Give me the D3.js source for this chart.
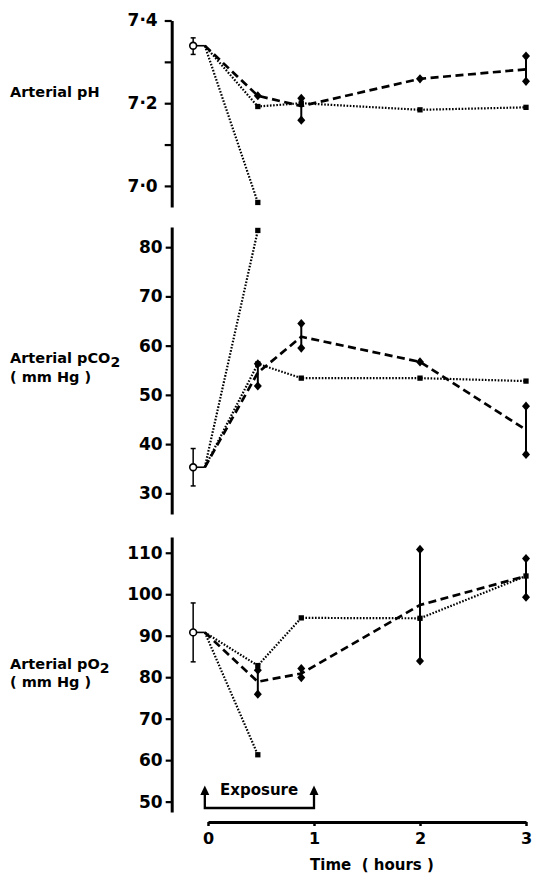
<!DOCTYPE html>
<html><head><meta charset="utf-8">
<script src="https://cdn.jsdelivr.net/npm/d3@7"></script>
<style>
body{margin:0;background:#fff;}
text{font-family:"DejaVu Sans",sans-serif;font-weight:bold;fill:#000;}
</style></head>
<body><svg id="c" width="536" height="873"></svg>
<script>
// ---- data ----
const times = [-0.03, 0.47, 0.88, 2, 3];
const controlTime = -0.14;
const steepTimes = [-0.03, 0.47];
const xTicks = [0, 1, 2, 3];

// Arterial pH
const phControl = [7.339, 7.318, 7.358]; // mean, lo, hi
const phA   = [7.339, 7.218, 7.193, 7.259, 7.282];
const phALo = [null, null, 7.159, null, 7.253];
const phAHi = [null, null, 7.212, null, 7.314];
const phB   = [7.339, 7.192, 7.200, 7.184, 7.190];
const phC   = [7.339, 6.960];
const phTicks = [7.0, 7.1, 7.2, 7.3, 7.4];
const phLabels = {"7": "7·0", "7.2": "7·2", "7.4": "7·4"};

// Arterial pCO2
const co2Control = [35.3, 31.5, 39.1];
const co2A   = [35.3, 54.5, 61.8, 56.7, 42.9];
const co2ALo = [null, 51.8, 59.5, null, 37.9];
const co2AHi = [null, 56.3, 64.5, null, 47.7];
const co2B   = [35.3, 56.3, 53.4, 53.4, 52.8];
const co2C   = [35.3, 83.4];
const co2Ticks = [30, 40, 50, 60, 70, 80];

// Arterial pO2
const o2Control = [90.8, 83.7, 97.9];
const o2A   = [90.8, 78.9, 80.9, 97.4, 104.4];
const o2ALo = [null, 75.9, 79.9, 83.9, 99.3];
const o2AHi = [null, 81.7, 82.1, 110.8, 108.6];
const o2B   = [90.8, 82.8, 94.3, 94.2, 104.4];
const o2C   = [90.8, 61.3];
const o2Ticks = [50, 60, 70, 80, 90, 100, 110];

// ---- drawing ----
const svg = d3.select("#c");
const x = d3.scaleLinear().domain([0, 3]).range([208, 526]);
const axisX = 171.7;

const panels = [
  {ctrl: phControl, A: phA, ALo: phALo, AHi: phAHi, B: phB, C: phC, ticks: phTicks,
   fmt: v => phLabels[String(+v.toFixed(1))] || "", domain: [6.949, 7.4], range: [207, 20.5], tickSize: 7, pad: 7},
  {ctrl: co2Control, A: co2A, ALo: co2ALo, AHi: co2AHi, B: co2B, C: co2C, ticks: co2Ticks,
   fmt: d3.format("d"), domain: [25.8, 84.1], range: [514, 227], tickSize: 6, pad: 3},
  {ctrl: o2Control, A: o2A, ALo: o2ALo, AHi: o2AHi, B: o2B, C: o2C, ticks: o2Ticks,
   fmt: d3.format("d"), domain: [47.5, 113.8], range: [812, 537], tickSize: 6, pad: 3}
];

const diamondType = {draw(ctx, size){ const w=4, h=4.6; ctx.moveTo(0,-h); ctx.lineTo(w,0); ctx.lineTo(0,h); ctx.lineTo(-w,0); ctx.closePath(); }};
const diamond = d3.symbol().type(diamondType);
const square = d3.symbol().type(d3.symbolSquare).size(28);

panels.forEach(p => {
  const y = d3.scaleLinear().domain(p.domain).range(p.range);
  const g = svg.append("g").attr("transform", `translate(${axisX},0)`);
  g.call(d3.axisLeft(y).tickValues(p.ticks).tickSize(p.tickSize).tickSizeOuter(0)
          .tickPadding(p.pad).tickFormat(p.fmt));
  g.select(".domain").attr("stroke-width", 3).attr("stroke", "#000");
  g.selectAll(".tick line").attr("stroke-width", 2.2).attr("stroke", "#000");
  g.selectAll(".tick text").attr("font-size", 17).attr("font-family", "DejaVu Sans").attr("font-weight", "bold").attr("fill", "#000");

  const line = d3.line().x(d => x(d[0])).y(d => y(d[1]));
  svg.append("path").attr("d", line([[controlTime, p.ctrl[0]], [times[0], p.ctrl[0]]]))
     .attr("stroke", "#000").attr("stroke-width", 1.6).attr("fill", "none");
  svg.append("path").attr("d", line(steepTimes.map((t, i) => [t, p.C[i]])))
     .attr("stroke", "#000").attr("stroke-width", 2.2).attr("stroke-dasharray", "1.6,1.6").attr("fill", "none");
  svg.append("path").attr("d", line(times.map((t, i) => [t, p.B[i]])))
     .attr("stroke", "#000").attr("stroke-width", 2.2).attr("stroke-dasharray", "1.6,1.6").attr("fill", "none");
  svg.append("path").attr("d", line(times.map((t, i) => [t, p.A[i]])))
     .attr("stroke", "#000").attr("stroke-width", 2.7).attr("stroke-dasharray", "8,4.5").attr("fill", "none");

  svg.append("path").attr("d", square())
     .attr("transform", `translate(${x(steepTimes[1])},${y(p.C[1])})`).attr("fill", "#000");
  times.forEach((t, i) => {
    if (i === 0) return;
    svg.append("path").attr("d", square())
       .attr("transform", `translate(${x(t)},${y(p.B[i])})`).attr("fill", "#000");
  });
  times.forEach((t, i) => {
    if (i === 0) return;
    if (p.ALo[i] == null) {
      svg.append("path").attr("d", diamond()).attr("transform", `translate(${x(t)},${y(p.A[i])})`).attr("fill", "#000");
    } else {
      svg.append("line").attr("x1", x(t)).attr("x2", x(t)).attr("y1", y(p.ALo[i])).attr("y2", y(p.AHi[i]))
         .attr("stroke", "#000").attr("stroke-width", 2);
      [p.ALo[i], p.AHi[i]].forEach(v => svg.append("path").attr("d", diamond())
         .attr("transform", `translate(${x(t)},${y(v)})`).attr("fill", "#000"));
    }
  });
  const cx = x(controlTime);
  svg.append("line").attr("x1", cx).attr("x2", cx).attr("y1", y(p.ctrl[1])).attr("y2", y(p.ctrl[2]))
     .attr("stroke", "#000").attr("stroke-width", 1.5);
  [p.ctrl[1], p.ctrl[2]].forEach(v => svg.append("line").attr("x1", cx - 2.5).attr("x2", cx + 2.5)
     .attr("y1", y(v)).attr("y2", y(v)).attr("stroke", "#000").attr("stroke-width", 1.5));
  svg.append("circle").attr("cx", cx).attr("cy", y(p.ctrl[0])).attr("r", 3.4)
     .attr("fill", "#fff").attr("stroke", "#000").attr("stroke-width", 1.6);
});

// x axis
const gx = svg.append("g").attr("transform", "translate(0,822)");
gx.call(d3.axisBottom(x).tickValues(xTicks).tickSize(4).tickSizeOuter(0).tickPadding(7).tickFormat(d3.format("d")));
gx.select(".domain").attr("stroke-width", 3).attr("stroke", "#000");
gx.selectAll(".tick line").attr("stroke-width", 2.5).attr("stroke", "#000");
gx.selectAll(".tick text").attr("font-size", 16).attr("font-family", "DejaVu Sans").attr("font-weight", "bold").attr("fill", "#000");

svg.append("text").attr("x", 372).attr("y", 869.5).attr("text-anchor", "middle").attr("font-size", 15)
   .style("white-space", "pre").text("Time  ( hours )");

// exposure bracket
const ex0 = x(-0.03), ex1 = x(1);
svg.append("path").attr("d", `M${ex0},792 V808 H${ex1} V792`).attr("fill", "none").attr("stroke", "#000").attr("stroke-width", 2.3);
[ex0, ex1].forEach(ax => svg.append("path").attr("d", `M${ax},785.5 L${ax+4.5},795 L${ax-4.5},795 Z`).attr("fill", "#000"));
svg.append("text").attr("x", 220).attr("y", 795).attr("font-size", 15).text("Exposure");

// panel labels
svg.append("text").attr("x", 10).attr("y", 97).attr("font-size", 14.5).text("Arterial pH");
const t2 = svg.append("text").attr("x", 10).attr("y", 362.5).attr("font-size", 14.5);
t2.append("tspan").text("Arterial pCO");
t2.append("tspan").attr("dy", 4).attr("font-size", 14).text("2");
svg.append("text").attr("x", 10).attr("y", 381.5).attr("font-size", 14.5).style("white-space", "pre").text("( mm Hg )");
const t3 = svg.append("text").attr("x", 10).attr("y", 668.5).attr("font-size", 14.5);
t3.append("tspan").text("Arterial pO");
t3.append("tspan").attr("dy", 4).attr("font-size", 14).text("2");
svg.append("text").attr("x", 10).attr("y", 686.5).attr("font-size", 14.5).style("white-space", "pre").text("( mm Hg )");
</script>
</body></html>
